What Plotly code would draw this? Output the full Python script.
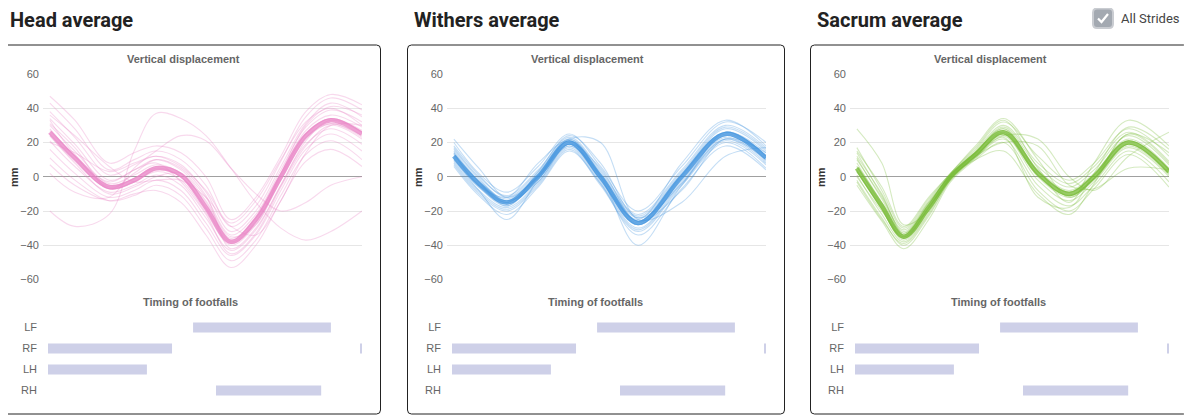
import plotly.graph_objects as go

W, H = 1192, 416
PAGE_OFFSET = 8  # browser default body margin

PANEL_TITLES = ["Head average", "Withers average", "Sacrum average"]
CHART_TITLE = "Vertical displacement"
FOOT_TITLE = "Timing of footfalls"
Y_LABEL = "mm"
Y_TICKS = [-60, -40, -20, 0, 20, 40, 60]
CHECK_LABEL = "All Strides"

# ---- Head (% of stride, mm) ----
HEAD_X = [0, 8, 19, 27, 34, 42, 50, 58, 66, 74, 82, 90, 100]
HEAD_MEAN = [26, 11, -6, -2, 5, 1, -18, -38, -25, 0, 24, 33, 25]
HEAD_STRIDES = [
    [47, 33, 8, 14, 18, 14, 0, -25, -12, 12, 38, 48, 42],
    [43, 28, 4, 10, 15, 10, -5, -29, -17, 9, 35, 46, 39],
    [38, 23, 1, 7, 12, 7, -9, -32, -20, 6, 31, 43, 35],
    [34, 19, -2, 4, 10, 4, -12, -34, -22, 4, 29, 39, 32],
    [30, 15, -4, 1, 7, 2, -15, -36, -24, 2, 27, 36, 29],
    [27, 12, -6, -1, 5, 0, -18, -38, -26, 0, 25, 34, 26],
    [28, 12, -5, -1, 6, 2, -16, -37, -24, 1, 25, 34, 27],
    [24, 9, -7, -3, 4, 0, -19, -39, -27, -1, 23, 31, 24],
    [25, 10, -7, -3, 3, -2, -21, -40, -28, -2, 22, 31, 23],
    [21, 6, -9, -5, 1, -5, -24, -43, -31, -5, 19, 28, 19],
    [16, 2, -12, -8, -2, -8, -27, -46, -34, -8, 16, 25, 15],
    [11, -2, -14, -11, -5, -11, -30, -49, -37, -11, 13, 21, 10],
    [7, -5, -14, -10, -8, -15, -34, -53, -40, -14, 9, 16, 6],
    [36, 24, 6, -3, -2, -2, -12, -29, -34, -14, 14, 30, 30],
    [20, 14, 3, 8, 12, 6, -8, -27, -14, 10, 32, 40, 30],
    [31, 17, -7, 2, 10, 5, -11, -42, -30, -5, 21, 33, 26],
    [24, 8, -10, -6, 0, 2, -14, -35, -28, 2, 30, 41, 36],
    [33, 13, -3, 4, 8, -3, -22, -45, -33, -6, 18, 30, 22],
    [-20, -29, -22, 15, 37, 34, 24, 5, -15, -30, -37, -32, -20],
    [2, -9, -12, 5, 15, 24, 21, 5, -10, -20, -15, -5, 0],
]

# ---- Withers ----
WITHERS_X = [0, 8, 17, 27, 37, 47, 59, 73, 87, 100]
WITHERS_MEAN = [12, -4, -15, 0, 20, 0, -27, 0, 25, 11]
WITHERS_STRIDES = [
    [20, 2, -9, 6, 25, 6, -20, 6, 32, 20],
    [17, 0, -11, 4, 23, 4, -22, 4, 30, 17],
    [15, -2, -13, 2, 22, 2, -24, 2, 28, 15],
    [13, -4, -14, 1, 21, 1, -26, 1, 26, 12],
    [13, -3, -15, 1, 21, 1, -26, 1, 26, 12],
    [11, -6, -16, -1, 19, -1, -28, -1, 24, 10],
    [10, -6, -17, 0, 19, -2, -28, -2, 23, 9],
    [9, -8, -18, -3, 18, -3, -30, -3, 22, 8],
    [7, -10, -20, -5, 16, -5, -32, -5, 20, 5],
    [6, -11, -22, -6, 15, -4, -34, -7, 18, 4],
    [14, -3, -17, 3, 24, 8, -24, -4, 26, 14],
    [22, 5, -12, 0, 22, 20, -25, -15, 12, 17],
    [10, -8, -25, -2, 18, 0, -40, -5, 22, 10],
    [14, -5, -12, 8, 21, -2, -25, 8, 33, 18],
    [18, 1, -12, 3, 22, 3, -23, 3, 29, 16],
    [8, -9, -19, -4, 17, -4, -31, -4, 21, 7],
    [12, -5, -15, 0, 20, 0, -27, 0, 25, 11],
    [16, -1, -14, -3, 19, 5, -26, -8, 22, 14],
]

# ---- Sacrum ----
SACRUM_X = [0, 8, 15, 23, 30, 38, 47, 58, 68, 76, 87, 100]
SACRUM_MEAN = [5, -17, -35, -18, 0, 13, 26, 2, -10, 0, 20, 3]
SACRUM_STRIDES = [
    [17, -8, -30, -13, 2, 16, 32, 12, -2, 8, 28, 12],
    [14, -11, -32, -15, 1, 15, 30, 8, -4, 6, 26, 9],
    [11, -13, -33, -16, 1, 14, 29, 6, -6, 4, 24, 7],
    [8, -15, -34, -17, 0, 14, 28, 4, -8, 2, 22, 5],
    [6, -16, -34, -16, 1, 14, 27, 3, -9, 1, 21, 4],
    [3, -18, -36, -18, -1, 12, 25, 1, -11, -1, 19, 2],
    [4, -19, -36, -19, 0, 13, 26, 1, -11, -1, 19, 2],
    [1, -22, -38, -21, -1, 12, 24, -2, -14, -3, 17, 0],
    [-2, -24, -40, -23, -2, 11, 22, -5, -17, -5, 15, -3],
    [-5, -26, -42, -25, -3, 10, 20, -8, -20, -7, 13, -6],
    [28, 8, -28, -20, 0, 13, 24, 22, 0, -8, 12, 26],
    [6, -17, -35, -18, 0, 10, 15, -10, -22, -4, 25, 8],
    [0, -20, -35, -18, -1, 12, 20, 18, -5, -7, 5, 4],
    [10, -12, -31, -14, 2, 17, 33, 5, -15, 8, 33, 18],
    [12, -10, -33, -15, 1, 14, 28, 3, -9, 1, 21, 4],
    [3, -19, -37, -20, -1, 12, 25, 0, -12, -2, 18, 1],
    [15, -6, -29, -12, 2, 18, 34, 10, -12, -1, 25, 14],
    [-3, -25, -39, -22, -2, 11, 23, -12, -18, 2, 29, 16],
]

# ---- Footfall timing (% of stride) ----
FOOT_ROWS = ["LF", "RF", "LH", "RH"]
FOOT_ROW = ["LF", "RF", "RF", "LH", "RH"]
FOOT_START = [46.2, 0.0, 99.6, 0.0, 53.5]
FOOT_END = [90.1, 39.5, 100.0, 31.5, 87.0]

PANELS = [
    (HEAD_X, HEAD_MEAN, HEAD_STRIDES, (232, 130, 196)),
    (WITHERS_X, WITHERS_MEAN, WITHERS_STRIDES, (62, 145, 222)),
    (SACRUM_X, SACRUM_MEAN, SACRUM_STRIDES, (116, 186, 50)),
]
OFFSETS = [0, 404, 807]

FONT = "Roboto, Arial, sans-serif"
LABEL_FONT = "Liberation Sans, Arial, sans-serif"


def xp(p):
    return (p - PAGE_OFFSET) / W


def yp(p):
    return 1 - (p - PAGE_OFFSET) / H


def rrect(x0, y0, x1, y1, r):
    rx, ry = r / W, r / H
    X0, X1 = xp(x0), xp(x1)
    Y0, Y1 = yp(y0), yp(y1)
    return (f"M{X0+rx},{Y0} L{X1-rx},{Y0} Q{X1},{Y0} {X1},{Y0-ry} "
            f"L{X1},{Y1+ry} Q{X1},{Y1} {X1-rx},{Y1} L{X0+rx},{Y1} "
            f"Q{X0},{Y1} {X0},{Y1+ry} L{X0},{Y0-ry} Q{X0},{Y0} {X0+rx},{Y0} Z")


fig = go.Figure()
layout = dict(
    width=W, height=H, margin=dict(l=0, r=0, t=0, b=0, autoexpand=False),
    paper_bgcolor="white", plot_bgcolor="rgba(0,0,0,0)",
    showlegend=False, font=dict(family=LABEL_FONT, color="#666666", size=11),
)
shapes, annotations = [], []

for i, (xs, mean, strides, rgb) in enumerate(PANELS):
    o = OFFSETS[i]
    lx = "x" if i == 0 else f"x{2*i+1}"
    ly = "y" if i == 0 else f"y{2*i+1}"
    bx, by = f"x{2*i+2}", f"y{2*i+2}"
    r, g, b = rgb
    for s in strides:
        fig.add_trace(go.Scatter(
            x=xs, y=s, mode="lines", xaxis=lx, yaxis=ly, hoverinfo="skip",
            line=dict(color=f"rgba({r},{g},{b},0.3)", width=1.1, shape="spline", smoothing=1.0)))
    fig.add_trace(go.Scatter(
        x=xs, y=mean, mode="lines", xaxis=lx, yaxis=ly,
        line=dict(color=f"rgba({r},{g},{b},0.75)", width=4.5, shape="spline", smoothing=1.0)))

    fig.add_trace(go.Bar(
        orientation="h",
        y=[FOOT_ROWS.index(rw) for rw in FOOT_ROW],
        base=FOOT_START,
        x=[e - s for s, e in zip(FOOT_START, FOOT_END)],
        width=0.48, xaxis=bx, yaxis=by,
        marker=dict(color="rgb(206,208,232)", line=dict(width=0)),
    ))

    k1 = "" if i == 0 else str(2 * i + 1)
    k2 = str(2 * i + 2)
    layout["xaxis" + k1] = dict(
        domain=[xp(43 + o), xp(362 + o)], range=[-2.2, 100], automargin=False,
        showgrid=False, zeroline=False, showticklabels=False, anchor=ly)
    layout["yaxis" + k1] = dict(
        domain=[yp(279.5), yp(74)], range=[-60, 60], tickvals=Y_TICKS, automargin=False,
        showgrid=True, gridcolor="#e6e6e6", gridwidth=1,
        zeroline=True, zerolinecolor="#a0a0a0", zerolinewidth=1,
        tickfont=dict(size=11, color="#666666", family=LABEL_FONT),
        ticklabelstandoff=3, anchor=lx)
    layout["xaxis" + k2] = dict(
        domain=[xp(48 + o), xp(362 + o)], range=[0, 100], automargin=False,
        showgrid=False, zeroline=False, showticklabels=False, anchor=by)
    layout["yaxis" + k2] = dict(
        domain=[yp(401), yp(317)], range=[3.5, -0.5], automargin=False,
        tickvals=[0, 1, 2, 3], ticktext=FOOT_ROWS, showgrid=False, zeroline=False,
        tickfont=dict(size=11, color="#666666", family=LABEL_FONT),
        ticklabelstandoff=10, anchor=bx)

    shapes.append(dict(type="path", xref="paper", yref="paper",
                       path=rrect(3.5 + o, 45, 380.5 + o, 414, 4),
                       line=dict(color="#222222", width=1), fillcolor="rgba(0,0,0,0)", layer="above"))
    annotations.append(dict(text=f"<b>{PANEL_TITLES[i]}</b>", x=xp(9 + o), y=yp(20),
                            xref="paper", yref="paper", xanchor="left", yanchor="middle",
                            borderpad=0, showarrow=False,
                            font=dict(size=20, color="#222222", family=FONT)))
    annotations.append(dict(text=f"<b>{CHART_TITLE}</b>", x=xp(183 + o), y=yp(59),
                            xref="paper", yref="paper", xanchor="center", yanchor="middle",
                            showarrow=False, font=dict(size=11, color="#666666", family=LABEL_FONT)))
    annotations.append(dict(text=f"<b>{FOOT_TITLE}</b>", x=xp(191 + o), y=yp(302),
                            xref="paper", yref="paper", xanchor="center", yanchor="middle",
                            showarrow=False, font=dict(size=11, color="#666666", family=LABEL_FONT)))
    annotations.append(dict(text=f"<b>{Y_LABEL}</b>", x=xp(14 + o), y=yp(177),
                            xref="paper", yref="paper", xanchor="center", yanchor="middle",
                            textangle=-90, showarrow=False,
                            font=dict(size=11, color="#333333", family=LABEL_FONT)))

shapes.append(dict(type="path", xref="paper", yref="paper",
                   path=rrect(1093, 8.5, 1113, 28, 4),
                   line=dict(color="#c9ccd1", width=2), fillcolor="#a3a9b1"))
shapes.append(dict(type="path", xref="paper", yref="paper",
                   path=f"M{xp(1098)},{yp(18.5)} L{xp(1101.5)},{yp(22)} L{xp(1108)},{yp(14)}",
                   line=dict(color="white", width=2.2)))
annotations.append(dict(text=CHECK_LABEL, x=xp(1119), y=yp(18), xref="paper", yref="paper",
                        xanchor="left", yanchor="middle", showarrow=False,
                        font=dict(size=13, color="#444444", family=FONT)))

layout["shapes"] = shapes
layout["annotations"] = annotations
fig.update_layout(**layout)
fig.write_html("out.html")
